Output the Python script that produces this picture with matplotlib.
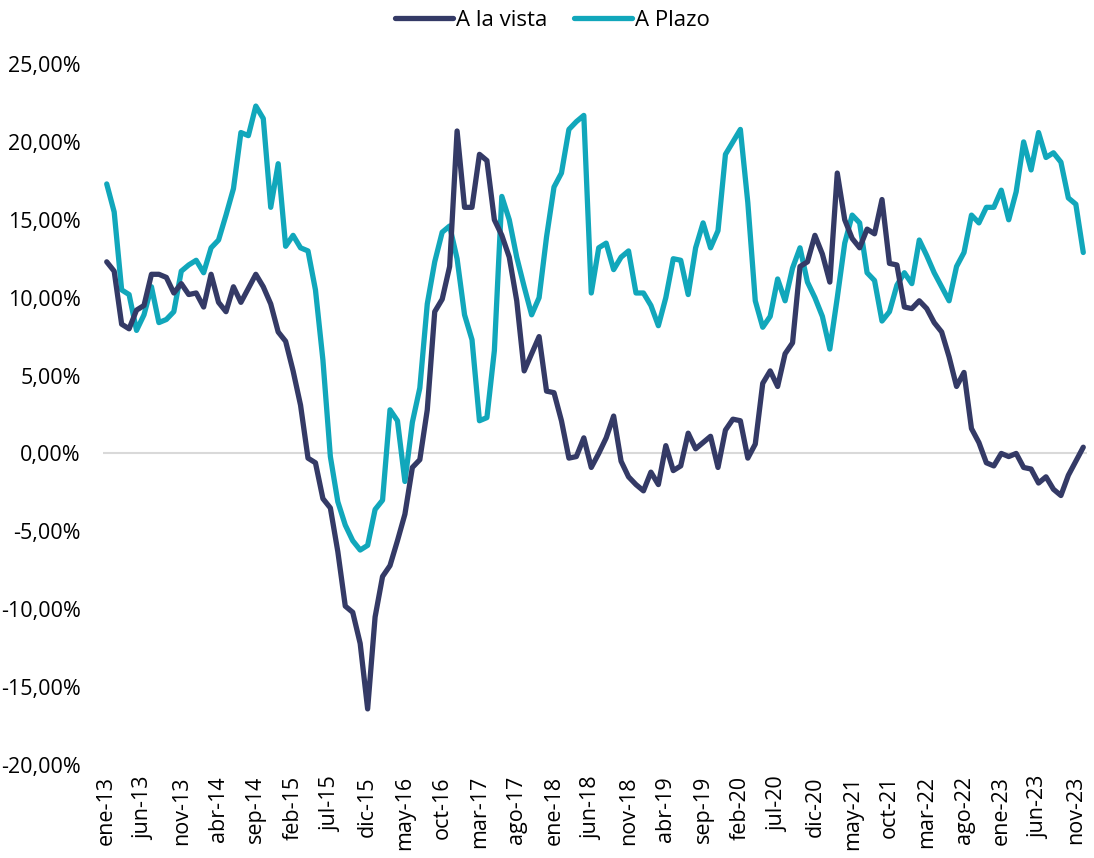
import matplotlib
matplotlib.use("Agg")
import matplotlib.pyplot as plt
import numpy as np

# monthly series, ene-13 .. dic-23 (%)
a_la_vista = [
    12.3, 11.7, 8.3, 8.0, 9.2, 9.5, 11.5, 11.5, 11.3, 10.3,
    10.9, 10.2, 10.3, 9.4, 11.5, 9.7, 9.1, 10.7, 9.7, 10.6,
    11.5, 10.7, 9.6, 7.8, 7.2, 5.3, 3.1, -0.3, -0.6, -2.9,
    -3.5, -6.3, -9.8, -10.2, -12.2, -16.4, -10.5, -7.9, -7.2, -5.6,
    -3.9, -0.9, -0.4, 2.8, 9.1, 9.9, 12.0, 20.7, 15.8, 15.8,
    19.2, 18.8, 15.0, 14.0, 12.6, 9.8, 5.3, 6.4, 7.5, 4.0,
    3.9, 2.1, -0.3, -0.2, 1.0, -0.9, 0.0, 1.0, 2.4, -0.5,
    -1.5, -2.0, -2.4, -1.2, -2.0, 0.5, -1.1, -0.8, 1.3, 0.3,
    0.7, 1.1, -0.9, 1.5, 2.2, 2.1, -0.3, 0.6, 4.5, 5.3,
    4.3, 6.4, 7.1, 12.0, 12.3, 14.0, 12.8, 11.0, 18.0, 15.0,
    13.8, 13.2, 14.4, 14.1, 16.3, 12.2, 12.1, 9.4, 9.3, 9.8,
    9.3, 8.4, 7.8, 6.2, 4.3, 5.2, 1.6, 0.7, -0.6, -0.8,
    0.0, -0.2, 0.0, -0.9, -1.0, -1.9, -1.5, -2.3, -2.7, -1.4,
    -0.5, 0.4,
]

a_plazo = [
    17.3, 15.5, 10.5, 10.2, 7.9, 8.9, 10.7, 8.4, 8.6, 9.1,
    11.7, 12.1, 12.4, 11.6, 13.2, 13.7, 15.3, 17.0, 20.6, 20.4,
    22.3, 21.5, 15.8, 18.6, 13.3, 14.0, 13.2, 13.0, 10.5, 6.0,
    -0.2, -3.1, -4.6, -5.6, -6.2, -5.9, -3.6, -3.0, 2.8, 2.1,
    -1.8, 2.0, 4.2, 9.6, 12.3, 14.2, 14.6, 12.5, 8.9, 7.3,
    2.1, 2.3, 6.6, 16.5, 15.0, 12.6, 10.7, 8.9, 10.0, 13.9,
    17.1, 18.0, 20.8, 21.3, 21.7, 10.3, 13.2, 13.5, 11.8, 12.6,
    13.0, 10.3, 10.3, 9.5, 8.2, 10.0, 12.5, 12.4, 10.2, 13.2,
    14.8, 13.2, 14.3, 19.2, 20.0, 20.8, 16.1, 9.8, 8.1, 8.8,
    11.2, 9.8, 11.9, 13.2, 11.0, 10.0, 8.8, 6.7, 10.0, 13.5,
    15.3, 14.8, 11.6, 11.1, 8.5, 9.1, 10.8, 11.6, 10.9, 13.7,
    12.7, 11.6, 10.7, 9.8, 12.0, 12.9, 15.3, 14.8, 15.8, 15.8,
    16.9, 15.0, 16.8, 20.0, 18.2, 20.6, 19.0, 19.3, 18.7, 16.4,
    16.0, 12.9,
]

tick_labels = ["ene-13", "jun-13", "nov-13", "abr-14", "sep-14", "feb-15",
               "jul-15", "dic-15", "may-16", "oct-16", "mar-17", "ago-17",
               "ene-18", "jun-18", "nov-18", "abr-19", "sep-19", "feb-20",
               "jul-20", "dic-20", "may-21", "oct-21", "mar-22", "ago-22",
               "ene-23", "jun-23", "nov-23"]
y_ticks = [-20, -15, -10, -5, 0, 5, 10, 15, 20, 25]

col_vista = "#343a66"
col_plazo = "#11a7bb"

plt.rcParams['font.family'] = ['Open Sans', 'DejaVu Sans']

fig = plt.figure(figsize=(10.94, 8.58), dpi=100)
ax = fig.add_axes([103 / 1094, 1 - 765 / 858, (1087 - 103) / 1094, (765 - 64) / 858])

x = np.arange(len(a_la_vista))
ax.axhline(0, color="#d9d9d9", lw=1.5, zorder=1)
ax.plot(x, a_la_vista, color=col_vista, lw=3.8, label="A la vista",
        solid_joinstyle="round", solid_capstyle="round", zorder=3)
ax.plot(x, a_plazo, color=col_plazo, lw=3.8, label="A Plazo",
        solid_joinstyle="round", solid_capstyle="round", zorder=2)

ax.set_xlim(-0.5, len(a_la_vista) - 0.5)
ax.set_ylim(-20, 25)
ax.set_yticks(y_ticks)
ax.set_yticklabels(["{:.2f}%".format(v).replace(".", ",") for v in y_ticks], fontsize=15.5)
ax.set_xticks(np.arange(0, len(tick_labels) * 5, 5))
ax.set_xticklabels(tick_labels, rotation=90, fontsize=15.5)
ax.tick_params(axis="both", length=0)
ax.tick_params(axis="y", pad=16)
ax.tick_params(axis="x", pad=8)
for s in ax.spines.values():
    s.set_visible(False)

fig.legend(loc="upper center", bbox_to_anchor=(0.505, 1.012), ncol=2, frameon=False,
           fontsize=16, handlelength=2.6, handletextpad=0.15, columnspacing=1.2)

plt.savefig("out.png", dpi=100)
